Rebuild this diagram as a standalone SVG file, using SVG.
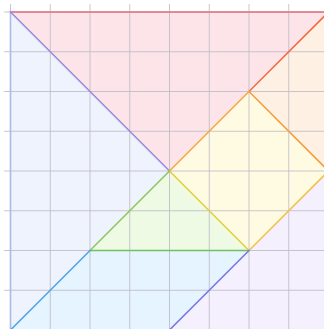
<svg xmlns="http://www.w3.org/2000/svg" width="324" height="329" viewBox="0 0 324 329">
<style>
.grid line{stroke:#bfbcc6;stroke-width:1;opacity:0.85}
.edge line{stroke-width:1.6;stroke-linecap:round}
</style>
<rect width="324" height="329" fill="#ffffff"/>
<g id="pieces">
<polygon id="large-red" points="10.5,12 328.5,12 169.5,171" fill="#fde4e9"/>
<polygon id="large-lavender" points="10.5,12 169.5,171 10.5,330" fill="#eff3fe"/>
<polygon id="small-peach" points="328.5,12 328.5,171 249,91.5" fill="#fef0e3"/>
<polygon id="square-yellow" points="249,91.5 328.5,171 249,250.5 169.5,171" fill="#fffbe3"/>
<polygon id="small-green" points="169.5,171 249,250.5 90,250.5" fill="#eefae3"/>
<polygon id="parallelogram-blue" points="10.5,330 90,250.5 249,250.5 169.5,330" fill="#e5f4fe"/>
<polygon id="medium-purple" points="328.5,171 328.5,330 169.5,330" fill="#f4f0fe"/>
</g>
<g class="grid" id="grid">
<line x1="10.5" y1="4" x2="10.5" y2="329"/>
<line x1="50.25" y1="4" x2="50.25" y2="329"/>
<line x1="90" y1="4" x2="90" y2="329"/>
<line x1="129.75" y1="4" x2="129.75" y2="329"/>
<line x1="169.5" y1="4" x2="169.5" y2="329"/>
<line x1="209.25" y1="4" x2="209.25" y2="329"/>
<line x1="249" y1="4" x2="249" y2="329"/>
<line x1="288.75" y1="4" x2="288.75" y2="329"/>
<line x1="4" y1="12" x2="324" y2="12"/>
<line x1="4" y1="51.75" x2="324" y2="51.75"/>
<line x1="4" y1="91.5" x2="324" y2="91.5"/>
<line x1="4" y1="131.25" x2="324" y2="131.25"/>
<line x1="4" y1="171" x2="324" y2="171"/>
<line x1="4" y1="210.75" x2="324" y2="210.75"/>
<line x1="4" y1="250.5" x2="324" y2="250.5"/>
<line x1="4" y1="290.25" x2="324" y2="290.25"/>
</g>
<g class="edge" id="edges">
<line x1="10.5" y1="12" x2="10.5" y2="330" stroke="#a9bbe8" stroke-width="2"/>
<line x1="10.5" y1="12" x2="328.5" y2="12" stroke="#e56e80"/>
<line x1="10.5" y1="12" x2="169.5" y2="171" stroke="#9a8ce2"/>
<line x1="328.5" y1="12" x2="249" y2="91.5" stroke="#f0704c"/>
<line x1="249" y1="91.5" x2="328.5" y2="171" stroke="#f3a043"/>
<line x1="169.5" y1="171" x2="249" y2="91.5" stroke="#f4a848"/>
<line x1="328.5" y1="171" x2="249" y2="250.5" stroke="#f0c450"/>
<line x1="169.5" y1="171" x2="249" y2="250.5" stroke="#e2d03e"/>
<line x1="169.5" y1="171" x2="90" y2="250.5" stroke="#8cc860"/>
<line x1="90" y1="250.5" x2="249" y2="250.5" stroke="#72c062" stroke-width="2"/>
<line x1="10.5" y1="330" x2="90" y2="250.5" stroke="#52a8e8"/>
<line x1="249" y1="250.5" x2="169.5" y2="330" stroke="#7a7ae2"/>
</g>
</svg>
